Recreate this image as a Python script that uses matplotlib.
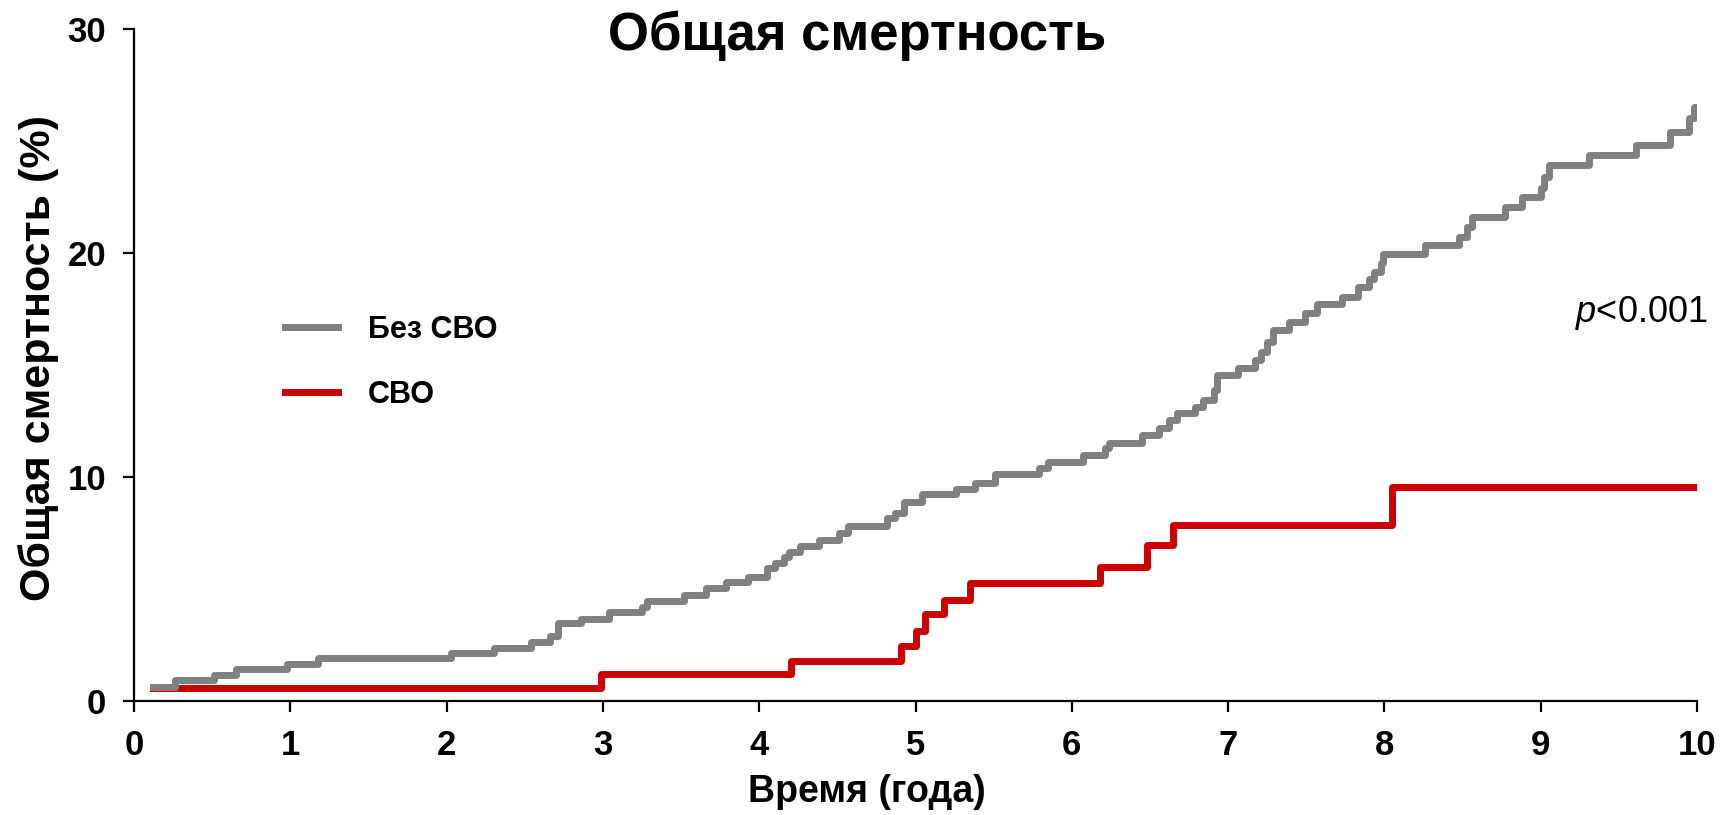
import numpy as np
import matplotlib
matplotlib.use('Agg')
import matplotlib.pyplot as plt

plt.rcParams['font.family'] = ['Liberation Sans', 'DejaVu Sans']
plt.rcParams['mathtext.fontset'] = 'custom'
plt.rcParams['mathtext.rm'] = 'Liberation Sans'
plt.rcParams['mathtext.it'] = 'Liberation Sans:italic'

# данные: время, годы / смертность, %
t_bez_svo = [0.12, 0.26, 0.51, 0.65, 0.98, 1.18, 2.03, 2.30, 2.54, 2.66,
             2.71, 2.86, 3.04, 3.25, 3.28, 3.52, 3.66, 3.79, 3.93, 4.05,
             4.10, 4.16, 4.19, 4.26, 4.38, 4.51, 4.57, 4.82, 4.87, 4.925,
             5.04, 5.26, 5.38, 5.51, 5.79, 5.85, 6.07, 6.21, 6.24, 6.45,
             6.56, 6.62, 6.67, 6.79, 6.84, 6.91, 6.93, 7.06, 7.17, 7.21,
             7.25, 7.29, 7.39, 7.49, 7.57, 7.73, 7.83, 7.90, 7.93, 7.98,
             7.99, 8.26, 8.48, 8.53, 8.56, 8.77, 8.88, 9.00, 9.02, 9.05,
             9.31, 9.61, 9.83, 9.95, 9.98, 10.04]
y_bez_svo = [0.63, 0.91, 1.13, 1.42, 1.64, 1.89, 2.12, 2.36, 2.64, 2.90,
             3.46, 3.63, 3.95, 4.17, 4.45, 4.72, 5.02, 5.29, 5.54, 5.91,
             6.14, 6.40, 6.66, 6.91, 7.18, 7.50, 7.80, 8.15, 8.40, 8.89,
             9.23, 9.44, 9.74, 10.11, 10.41, 10.67, 10.97, 11.27, 11.50, 11.87,
             12.17, 12.54, 12.86, 13.13, 13.43, 13.88, 14.55, 14.87, 15.22, 15.59,
             16.03, 16.56, 16.93, 17.33, 17.72, 18.04, 18.46, 18.82, 19.16, 19.53,
             19.95, 20.35, 20.70, 21.14, 21.62, 22.06, 22.48, 22.88, 23.40, 23.93,
             24.37, 24.82, 25.41, 26.01, 26.53, 26.53]

t_svo = [0.12, 2.99, 4.20, 4.91, 5.00, 5.06, 5.18, 5.35, 6.18, 6.48, 6.65, 8.05, 10.0]
y_svo = [0.58, 1.19, 1.79, 2.46, 3.10, 3.87, 4.50, 5.24, 5.98, 6.95, 7.85, 9.53, 9.53]

x_ticks = list(range(0, 11))
y_ticks = [0, 10, 20, 30]

fig = plt.figure(figsize=(17.25, 8.15), dpi=100)
ax = fig.add_axes([0.0777, 0.1402, 0.9061, 0.8242])

l_svo, = ax.step(t_svo, y_svo, where='post', color='#CC0000', lw=5,
                 solid_joinstyle='round', label='СВО')
l_bez, = ax.step(t_bez_svo, y_bez_svo, where='post', color='#808080', lw=5,
                 solid_joinstyle='round', label='Без СВО')

ax.set_xlim(0, 10)
ax.set_ylim(0, 30)
ax.set_xticks(x_ticks)
ax.set_yticks(y_ticks)
ax.spines['top'].set_visible(False)
ax.spines['right'].set_visible(False)
ax.spines['left'].set_linewidth(1.6)
ax.spines['bottom'].set_linewidth(1.6)
ax.tick_params(direction='out', length=8, width=1.6, labelsize=25, pad=12)
for lbl in ax.get_xticklabels() + ax.get_yticklabels():
    lbl.set_fontweight('bold')

ax.set_xlabel('Время (года)', fontsize=27, fontweight='bold', va='center')
ax.xaxis.set_label_coords(0.469, -0.136)
ax.set_ylabel('Общая смертность (%)', fontsize=31, fontweight='bold', va='center')
ax.yaxis.set_label_coords(-0.061, 0.51)
fig.text(0.497, 0.956, 'Общая смертность', ha='center', va='center',
         fontsize=38, fontweight='bold')

ax.text(10.07, 17.3, r'$p$<0.001', ha='right', va='center', fontsize=26)

ax.legend(handles=[l_bez, l_svo], loc='upper left', bbox_to_anchor=(0.0966, 0.574),
          frameon=False, borderpad=0, borderaxespad=0, handlelength=1.72,
          handletextpad=0.98, labelspacing=1.13, prop={'size': 22, 'weight': 'bold'})

fig.savefig('out.png', dpi=100)
